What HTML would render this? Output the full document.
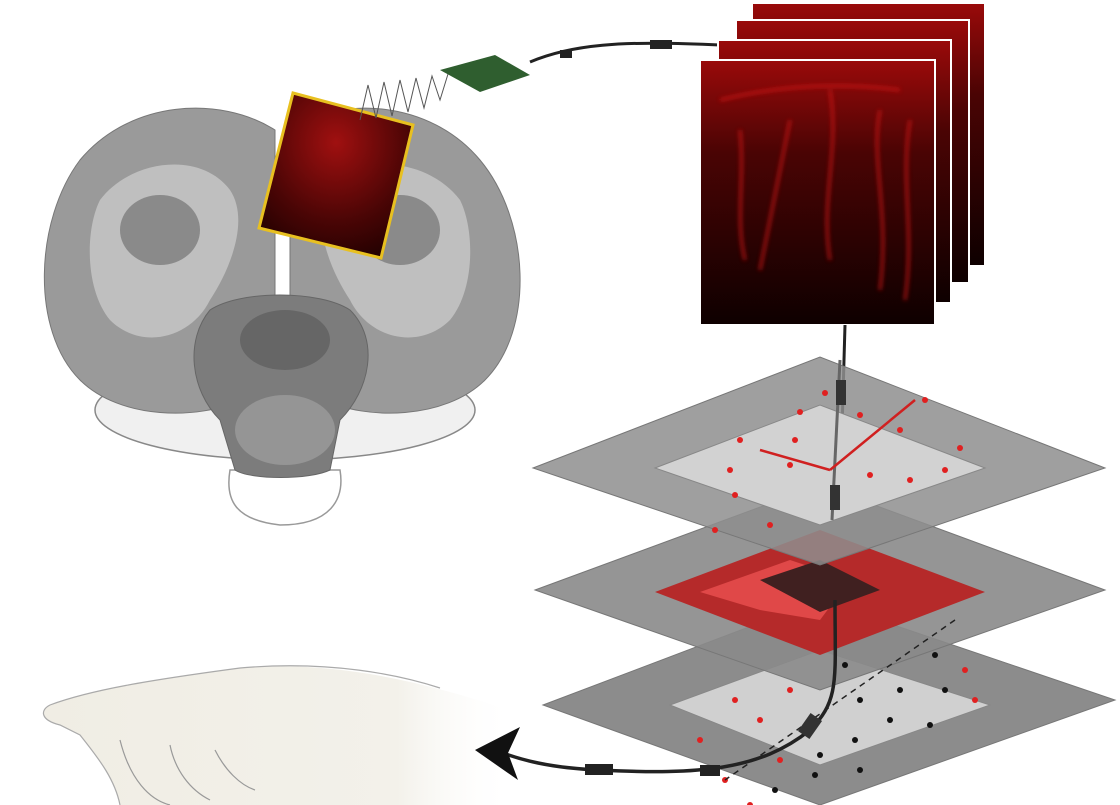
<!DOCTYPE html>
<html><head><meta charset="utf-8"><style>html,body{margin:0;padding:0;background:#fff}svg{display:block}</style></head>
<body>
<svg width="1120" height="805" viewBox="0 0 1120 805" xmlns="http://www.w3.org/2000/svg">
<defs>
<radialGradient id="red1" cx="0.5" cy="0.3" r="0.8"><stop offset="0" stop-color="#a01010"/><stop offset="0.6" stop-color="#4a0505"/><stop offset="1" stop-color="#1a0000"/></radialGradient>
<linearGradient id="redv" x1="0" y1="0" x2="0" y2="1"><stop offset="0" stop-color="#9a0a0a"/><stop offset="0.35" stop-color="#4a0404"/><stop offset="1" stop-color="#0e0000"/></linearGradient>
<linearGradient id="handg" x1="0" y1="0" x2="1" y2="0"><stop offset="0" stop-color="#f0ede4"/><stop offset="0.75" stop-color="#f3f1ea"/><stop offset="1" stop-color="#fff" stop-opacity="0"/></linearGradient>
<filter id="bl"><feGaussianBlur stdDeviation="2"/></filter>
</defs>
<rect width="1120" height="805" fill="#fff"/>
<!-- brain -->
<path d="M230,470 C225,500 235,520 280,525 C330,525 345,500 340,470 Z" fill="none" stroke="#999" stroke-width="1.5"/>
<ellipse cx="285" cy="410" rx="190" ry="50" fill="#f0f0f0" stroke="#888" stroke-width="1.5"/>
<path d="M275,130 C220,95 130,100 80,160 C35,220 30,330 80,380 C120,420 200,420 240,400 L275,300 Z" fill="#9a9a9a" stroke="#777"/>
<path d="M290,130 C340,95 430,100 480,160 C530,220 535,330 485,380 C445,420 365,420 325,400 L290,300 Z" fill="#9a9a9a" stroke="#777"/>
<path d="M100,200 C130,160 200,150 230,190 C250,220 230,270 210,300 C190,340 140,350 110,320 C85,290 85,230 100,200 Z" fill="#c6c6c6" opacity="0.85"/>
<path d="M460,200 C430,160 360,150 330,190 C310,220 330,270 350,300 C370,340 420,350 450,320 C475,290 475,230 460,200 Z" fill="#c6c6c6" opacity="0.85"/>
<ellipse cx="160" cy="230" rx="40" ry="35" fill="#8a8a8a"/>
<ellipse cx="400" cy="230" rx="40" ry="35" fill="#8a8a8a"/>
<path d="M210,310 C240,290 320,290 350,310 C380,340 370,390 340,420 L330,470 C310,480 250,480 235,470 L220,420 C190,390 185,340 210,310 Z" fill="#7c7c7c" stroke="#666"/>
<ellipse cx="285" cy="340" rx="45" ry="30" fill="#666"/>
<ellipse cx="285" cy="430" rx="50" ry="35" fill="#959595"/>
<!-- yellow square -->
<polygon points="293,93 413,125 381,258 259,228" fill="url(#red1)" stroke="#e8c020" stroke-width="3"/>
<!-- spring -->
<polyline points="360,120 368,85 376,118 384,82 392,116 400,80 408,112 416,78 424,108 432,76 440,100 448,74" fill="none" stroke="#555" stroke-width="1"/>
<polygon points="440,70 495,55 530,75 480,92" fill="#2f5e2f"/>
<path d="M530,62 C570,45 620,40 720,45" fill="none" stroke="#222" stroke-width="3"/>
<rect x="560" y="50" width="12" height="8" fill="#222"/><rect x="650" y="40" width="22" height="9" fill="#222"/>
<!-- image stack -->
<rect x="752" y="3" width="233" height="263" fill="url(#redv)" stroke="#fff" stroke-width="2"/>
<rect x="736" y="20" width="233" height="263" fill="url(#redv)" stroke="#fff" stroke-width="2"/>
<rect x="718" y="40" width="233" height="263" fill="url(#redv)" stroke="#fff" stroke-width="2"/>
<rect x="700" y="60" width="235" height="265" fill="url(#redv)" stroke="#fff" stroke-width="2"/>
<g stroke="#d01818" stroke-width="3" fill="none" opacity="0.75" filter="url(#bl)">
<path d="M790,120 C780,170 770,220 760,270"/><path d="M830,90 C840,150 820,200 830,260"/><path d="M880,110 C870,160 890,210 880,290"/><path d="M720,100 C760,90 820,80 900,90"/><path d="M910,120 C900,180 915,230 905,300"/><path d="M740,130 C745,180 735,220 745,260"/>
</g>
<line x1="845" y1="325" x2="840" y2="500" stroke="#222" stroke-width="3"/>
<!-- planes -->
<polygon points="543,705 820,600 1115,700 820,805" fill="#8c8c8c" stroke="#777"/>
<polygon points="670,705 820,650 990,705 820,765" fill="#d0d0d0" stroke="#888"/>
<polygon points="535,590 820,485 1105,590 820,690" fill="#8a8a8a" fill-opacity="0.9" stroke="#777"/>
<polygon points="655,592 820,530 985,592 820,655" fill="#b52a2a"/>
<polygon points="700,592 790,560 850,580 820,620 760,610" fill="#e04848"/>
<polygon points="760,580 820,560 880,590 820,612" fill="#402020"/>
<polygon points="533,468 820,357 1105,468 820,565" fill="#8e8e8e" fill-opacity="0.85" stroke="#777"/>
<polygon points="655,468 820,405 985,468 820,525" fill="#d2d2d2" stroke="#888"/>
<line x1="840" y1="360" x2="832" y2="520" stroke="#666" stroke-width="3"/>
<rect x="836" y="380" width="10" height="25" fill="#333"/><rect x="830" y="485" width="10" height="25" fill="#333"/>
<path d="M830,470 L760,450 M830,470 L915,400" stroke="#d02020" stroke-width="2.5"/>
<g fill="#e02020">
<circle cx="825" cy="393" r="3"/><circle cx="800" cy="412" r="3"/><circle cx="860" cy="415" r="3"/><circle cx="925" cy="400" r="3"/><circle cx="740" cy="440" r="3"/><circle cx="795" cy="440" r="3"/><circle cx="900" cy="430" r="3"/><circle cx="960" cy="448" r="3"/><circle cx="730" cy="470" r="3"/><circle cx="870" cy="475" r="3"/><circle cx="910" cy="480" r="3"/><circle cx="735" cy="495" r="3"/><circle cx="790" cy="465" r="3"/><circle cx="945" cy="470" r="3"/><circle cx="715" cy="530" r="3"/><circle cx="770" cy="525" r="3"/>
<circle cx="735" cy="700" r="3"/><circle cx="760" cy="720" r="3"/><circle cx="700" cy="740" r="3"/><circle cx="780" cy="760" r="3"/><circle cx="725" cy="780" r="3"/><circle cx="750" cy="805" r="3"/><circle cx="965" cy="670" r="3"/><circle cx="975" cy="700" r="3"/><circle cx="790" cy="690" r="3"/>
</g>
<g fill="#111"><circle cx="860" cy="700" r="3"/><circle cx="900" cy="690" r="3"/><circle cx="935" cy="655" r="3"/><circle cx="945" cy="690" r="3"/><circle cx="890" cy="720" r="3"/><circle cx="930" cy="725" r="3"/><circle cx="855" cy="740" r="3"/><circle cx="820" cy="755" r="3"/><circle cx="775" cy="790" r="3"/><circle cx="815" cy="775" r="3"/><circle cx="860" cy="770" r="3"/><circle cx="845" cy="665" r="3"/></g>
<line x1="955" y1="620" x2="725" y2="780" stroke="#222" stroke-width="1.5" stroke-dasharray="6,5"/>
<!-- hand -->
<path d="M50,705 C90,690 150,680 240,668 C330,660 420,680 515,712 L515,805 L120,805 C115,780 100,760 80,735 L60,725 C40,720 40,710 50,705 Z" fill="url(#handg)"/>
<path d="M50,705 C90,690 150,680 240,668 C330,660 400,675 440,688 M120,805 C115,780 100,760 80,735 L60,725 C40,720 40,710 50,705" fill="none" stroke="#aaa" stroke-width="1.2"/>
<path d="M120,740 C130,780 150,800 170,805 M170,745 C175,770 190,790 210,800 M215,750 C225,770 240,785 255,790" fill="none" stroke="#999" stroke-width="1.2"/>
<!-- arrow -->
<path d="M835,600 C835,680 840,700 810,730 C760,770 700,775 600,770 C550,768 520,760 495,750" fill="none" stroke="#222" stroke-width="3.5"/>
<rect x="803" y="715" width="14" height="22" fill="#333" transform="rotate(35 810 726)"/>
<rect x="585" y="764" width="28" height="11" fill="#222"/><rect x="700" y="765" width="20" height="11" fill="#222"/>
<polygon points="475,750 520,727 508,753 518,780" fill="#111"/>
</svg>
</body></html>
